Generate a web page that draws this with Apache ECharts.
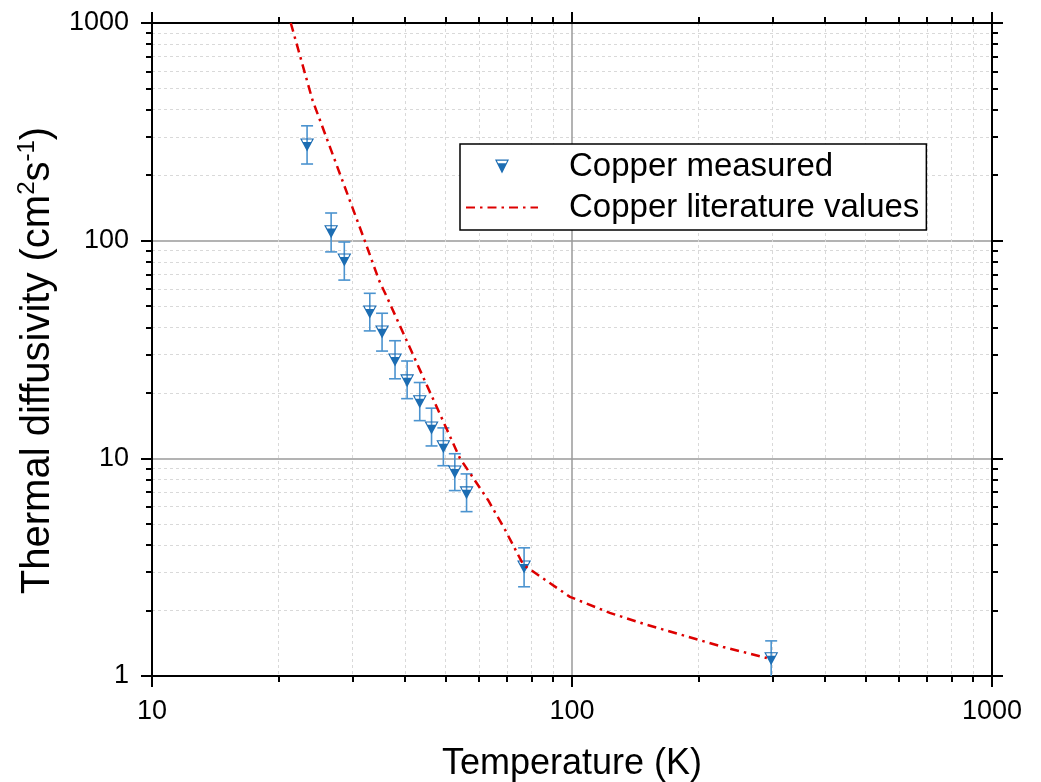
<!DOCTYPE html>
<html>
<head>
<meta charset="utf-8">
<script src="https://cdn.jsdelivr.net/npm/echarts@6/dist/echarts.min.js"></script>
<style>
  html, body { margin: 0; padding: 0; background: #fff; }
  #chart { width: 1041px; height: 782px; }
</style>
</head>
<body>
<div id="chart"></div>
<script>
// Measured thermal diffusivity of copper (cm^2/s) with error bounds
const measuredT = [23.4, 26.7, 28.7, 33.0, 35.3, 37.9, 40.5, 43.4, 46.3, 49.4, 52.6, 56.1, 76.9, 298];
const measuredD = [275, 110, 81.5, 47.0, 38.1, 28.3, 22.7, 18.2, 13.8, 11.3, 8.66, 6.94, 3.17, 1.2];
const measuredHigh = [337, 134, 98.6, 57.3, 46.4, 34.7, 28.0, 22.3, 17.0, 13.8, 10.5, 8.48, 3.88, 1.45];
const measuredLow = [225, 88.8, 65.9, 38.5, 31.1, 23.2, 18.8, 14.9, 11.4, 9.25, 7.11, 5.69, 2.57, 0.98];

// Literature curve for copper
const literatureT = [21.4, 24.1, 32.1, 34.7, 36.5, 54.1, 63.1, 69.3, 76.6, 98.9, 123, 149, 229, 291];
const literatureD = [1000, 443, 100, 65.9, 53.5, 10, 6.44, 4.69, 3.24, 2.31, 1.95, 1.73, 1.36, 1.21];

// Axis ranges and minor tick positions (log axes)
const xRange = [10, 1000];
const yRange = [1, 1000];
const xMinorTicks = [20, 30, 40, 50, 60, 70, 80, 90, 200, 300, 400, 500, 600, 700, 800, 900];
const yMinorTicks = [2, 3, 4, 5, 6, 7, 8, 9, 20, 30, 40, 50, 60, 70, 80, 90, 200, 300, 400, 500, 600, 700, 800, 900];

const seriesNames = ['Copper measured', 'Copper literature values'];
const xTitle = 'Temperature (K)';

const FONT = '"Liberation Sans", Arial, sans-serif';
const MARKER_BLUE = '#1c6db3';
const ERR_BLUE = '#4b93cf';
const LIT_RED = '#dd0000';

// Inverted triangle: outline with a hollow band at the top, filled below
const markerPath = 'path://M0 0 L24 0 L12 24 Z M3.3 2 L5.3 6.4 L18.7 6.4 L20.7 2 Z';

function makeAxis(dim, pos, minor, extra) {
  const base = {
    type: 'log',
    logBase: 10,
    min: dim === 'x' ? xRange[0] : yRange[0],
    max: dim === 'x' ? xRange[1] : yRange[1],
    position: pos,
    axisLine: { show: !minor, onZero: false, lineStyle: { color: '#000', width: 2 } },
    axisTick: { show: true, inside: false, length: minor ? 6 : 11, lineStyle: { color: '#000', width: 2 } },
    axisLabel: { show: false },
    splitLine: { show: false },
    minorTick: { show: false },
    minorSplitLine: { show: false }
  };
  if (minor) {
    base.axisTick.customValues = dim === 'x' ? xMinorTicks : yMinorTicks;
  }
  return Object.assign(base, extra || {});
}

const plainNumber = (v) => String(Math.round(v));

const xAxes = [
  makeAxis('x', 'bottom', false, {
    name: xTitle,
    nameLocation: 'middle',
    nameGap: 70,
    nameTextStyle: { fontFamily: FONT, fontSize: 36, color: '#000' },
    axisLabel: { show: true, margin: 22, fontFamily: FONT, fontSize: 27, color: '#000', formatter: plainNumber },
    splitLine: { show: true, lineStyle: { color: '#9a9a9a', width: 1.5, type: 'solid' } }
  }),
  makeAxis('x', 'bottom', true, {
    splitLine: { show: true, lineStyle: { color: '#d9d9d9', width: 1, type: [3, 3] } }
  }),
  makeAxis('x', 'top', false),
  makeAxis('x', 'top', true)
];

const yAxes = [
  makeAxis('y', 'left', false, {
    name: '{a|Thermal diffusivity (cm}{s|2}{a|s}{s|-1}{a|)}',
    nameLocation: 'middle',
    nameGap: 87,
    nameTextStyle: {
      fontFamily: FONT, fontSize: 40, color: '#000',
      padding: [0, 22, 0, 0],
      rich: {
        a: { fontFamily: FONT, fontSize: 40, lineHeight: 46, color: '#000' },
        s: { fontFamily: FONT, fontSize: 24, lineHeight: 26, verticalAlign: 'top', color: '#000' }
      }
    },
    axisLabel: { show: true, margin: 23, fontFamily: FONT, fontSize: 27, color: '#000', formatter: plainNumber },
    splitLine: { show: true, lineStyle: { color: '#9a9a9a', width: 1.5, type: 'solid' } }
  }),
  makeAxis('y', 'left', true, {
    splitLine: { show: true, lineStyle: { color: '#d9d9d9', width: 1, type: [3, 3] } }
  }),
  makeAxis('y', 'right', false),
  makeAxis('y', 'right', true)
];

const measuredPoints = measuredT.map((t, i) => [t, measuredD[i]]);
const errorBars = measuredT.map((t, i) => [t, measuredLow[i], measuredHigh[i]]);
const literaturePoints = literatureT.map((t, i) => [t, literatureD[i]]);

function renderErrorBar(params, api) {
  const x = api.value(0);
  const top = api.coord([x, api.value(2)]);
  const bottom = api.coord([x, api.value(1)]);
  const half = 6;
  const style = { stroke: ERR_BLUE, lineWidth: 1.6, fill: null };
  return {
    type: 'group',
    children: [
      { type: 'line', shape: { x1: top[0], y1: top[1], x2: bottom[0], y2: bottom[1] }, style },
      { type: 'line', shape: { x1: top[0] - half, y1: top[1], x2: top[0] + half, y2: top[1] }, style },
      { type: 'line', shape: { x1: bottom[0] - half, y1: bottom[1], x2: bottom[0] + half, y2: bottom[1] }, style }
    ]
  };
}

const chart = echarts.init(document.getElementById('chart'), null, { renderer: 'canvas' });
chart.setOption({
  animation: false,
  backgroundColor: '#fff',
  grid: { left: 152, right: 49, top: 23, bottom: 106, containLabel: false, outerBoundsMode: 'none' },
  xAxis: xAxes,
  yAxis: yAxes,
  legend: {
    data: [
      { name: seriesNames[0] },
      { name: seriesNames[1], itemStyle: { opacity: 0 } }
    ],
    orient: 'vertical',
    left: 460,
    top: 144,
    padding: [6, 7, 6, 5],
    itemGap: 8,
    itemWidth: 72,
    itemHeight: 14,
    backgroundColor: '#fff',
    borderColor: '#000',
    borderWidth: 1.5,
    borderRadius: 0,
    textStyle: { fontFamily: FONT, fontSize: 33, color: '#000', lineHeight: 32, padding: [0, 0, 0, 26] }
  },
  series: [
    {
      name: 'errorbars',
      type: 'custom',
      renderItem: renderErrorBar,
      encode: { x: 0, y: [1, 2] },
      data: errorBars,
      clip: true,
      z: 2
    },
    {
      name: seriesNames[0],
      type: 'scatter',
      data: measuredPoints,
      symbol: markerPath,
      symbolSize: [14, 13],
      itemStyle: { color: MARKER_BLUE, opacity: 1 },
      z: 3
    },
    {
      name: seriesNames[1],
      type: 'line',
      data: literaturePoints,
      showSymbol: false,
      symbol: 'none',
      smooth: false,
      lineStyle: { color: LIT_RED, width: 2.5, type: [9, 5, 2.5, 5] },
      itemStyle: { color: LIT_RED },
      clip: true,
      z: 4
    }
  ]
});
</script>
</body>
</html>
